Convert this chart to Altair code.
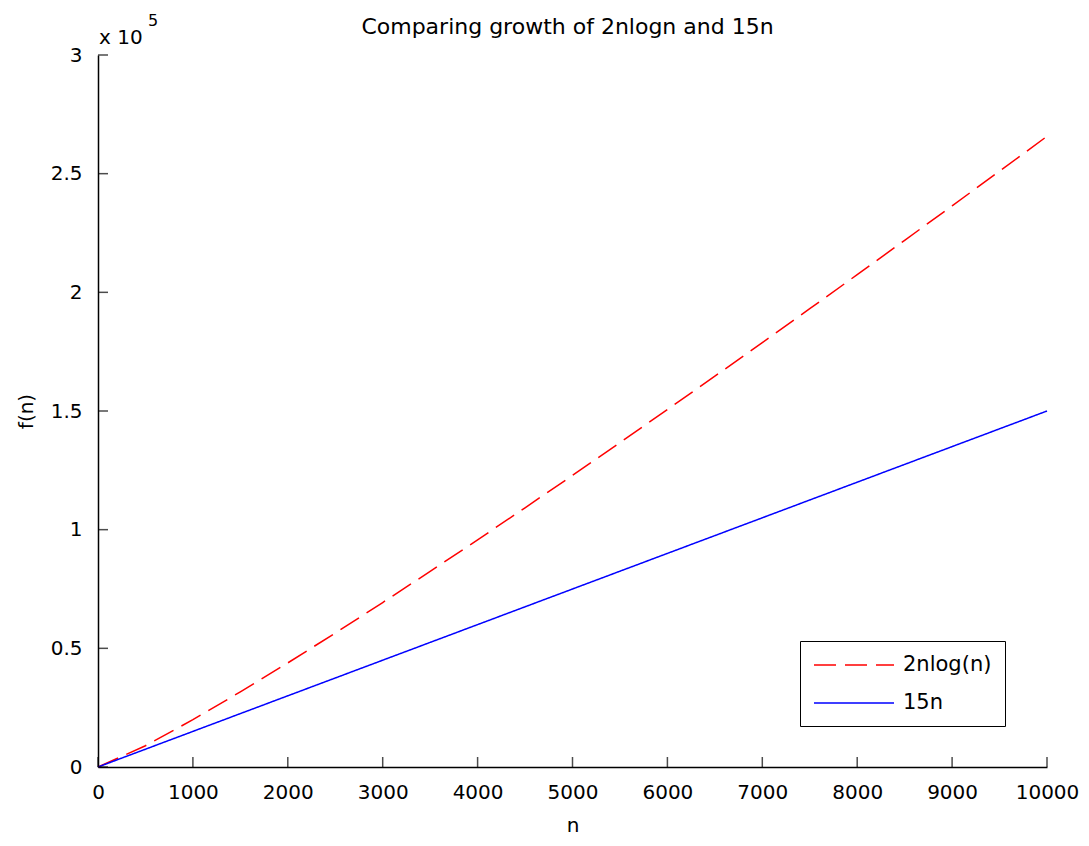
import altair as alt
import pandas as pd

# ---- data ----
n_values = [0, 500, 1000, 1500, 2000, 2500, 3000, 3500, 4000, 4500, 5000,
            5500, 6000, 6500, 7000, 7500, 8000, 8500, 9000, 9500, 10000]
nlogn_values = [0, 8966, 19932, 31652, 43863, 56439, 69304, 82412, 95726, 109221, 122877,
                136677, 150609, 164661, 178823, 193090, 207452, 221906, 236443, 251060, 265754]
linear_values = [0, 7500, 15000, 22500, 30000, 37500, 45000, 52500, 60000, 67500, 75000,
                 82500, 90000, 97500, 105000, 112500, 120000, 127500, 135000, 142500, 150000]
series_names = ["2nlog(n)", "15n"]
x_ticks = [0, 1000, 2000, 3000, 4000, 5000, 6000, 7000, 8000, 9000, 10000]
y_ticks = [0, 50000, 100000, 150000, 200000, 250000, 300000]
title_text = "Comparing growth of 2nlogn and 15n"
exp_base = "x 10"
exp_power = "5"

rows = []
for n, a in zip(n_values, nlogn_values):
    rows.append({"n": n, "f": a, "series": series_names[0]})
for n, b in zip(n_values, linear_values):
    rows.append({"n": n, "f": b, "series": series_names[1]})
df = pd.DataFrame(rows)

FONT = "DejaVu Sans"
W, H = 949, 712
xs = alt.Scale(domain=[0, 10000], nice=False)
ys = alt.Scale(domain=[0, 300000], nice=False)

legend = alt.Legend(
    title=None, orient="none", legendX=702, legendY=586,
    strokeColor="black", fillColor="white", padding=13,
    symbolType="M-1,0L7,0", symbolSize=400, symbolStrokeWidth=1.5,
    labelOffset=68, labelFont=FONT, labelFontSize=21, labelColor="black", rowPadding=17,
)

lines = alt.Chart(df).mark_line(strokeWidth=1.5).encode(
    x=alt.X("n:Q", scale=xs, axis=alt.Axis(values=x_ticks, title="n", format="d", labelFlush=False,
                                            labelPadding=15, titlePadding=13)),
    y=alt.Y("f:Q", scale=ys, axis=alt.Axis(values=y_ticks, title="f(n)", labelFlush=False,
                                            labelExpr="datum.value / 100000",
                                            labelPadding=16, titlePadding=14)),
    color=alt.Color("series:N", scale=alt.Scale(domain=series_names, range=["#ff0000", "#0000ff"]),
                    legend=legend),
    strokeDash=alt.StrokeDash("series:N", scale=alt.Scale(domain=series_names, range=[[22, 9], [1, 0]]),
                              legend=legend),
)

xt = pd.DataFrame({"n": x_ticks, "f": [0] * len(x_ticks)})
yt = pd.DataFrame({"n": [0] * len(y_ticks), "f": y_ticks})
xtick_layer = alt.Chart(xt).mark_tick(orient="vertical", size=10, thickness=1.5, color="black",
                                      yOffset=-5).encode(x=alt.X("n:Q", scale=xs), y=alt.Y("f:Q", scale=ys))
ytick_layer = alt.Chart(yt).mark_tick(orient="horizontal", size=10, thickness=1.5, color="black",
                                      xOffset=5).encode(x=alt.X("n:Q", scale=xs), y=alt.Y("f:Q", scale=ys))

anno = pd.DataFrame({"n": [0], "f": [300000]})
base_txt = alt.Chart(anno).mark_text(text=exp_base, align="left", baseline="middle", font=FONT,
                                     fontSize=20, dx=1, dy=-17, color="black").encode(
    x=alt.X("n:Q", scale=xs), y=alt.Y("f:Q", scale=ys))
pow_txt = alt.Chart(anno).mark_text(text=exp_power, align="left", baseline="middle", font=FONT,
                                    fontSize=16, dx=50, dy=-34, color="black").encode(
    x=alt.X("n:Q", scale=xs), y=alt.Y("f:Q", scale=ys))

tanno = pd.DataFrame({"n": [5000], "f": [300000]})
title_txt = alt.Chart(tanno).mark_text(text=title_text, align="center", baseline="middle", font=FONT,
                                       fontSize=22, dx=-5, dy=-28, color="black").encode(
    x=alt.X("n:Q", scale=xs), y=alt.Y("f:Q", scale=ys))

chart = alt.layer(lines, xtick_layer, ytick_layer, base_txt, pow_txt, title_txt).properties(
    width=W, height=H,
    autosize=alt.AutoSizeParams(type="none"),
    padding={"left": 90, "top": 47, "right": 34, "bottom": 71},
).configure_view(stroke=None).configure_axis(
    grid=False, tickSize=0, domainColor="black", domainWidth=1.5,
    labelFont=FONT, labelFontSize=20, labelColor="black",
    titleFont=FONT, titleFontSize=20, titleFontWeight="normal", titleColor="black",
)

chart.save("out.html", embed_options={"renderer": "svg", "actions": False})
